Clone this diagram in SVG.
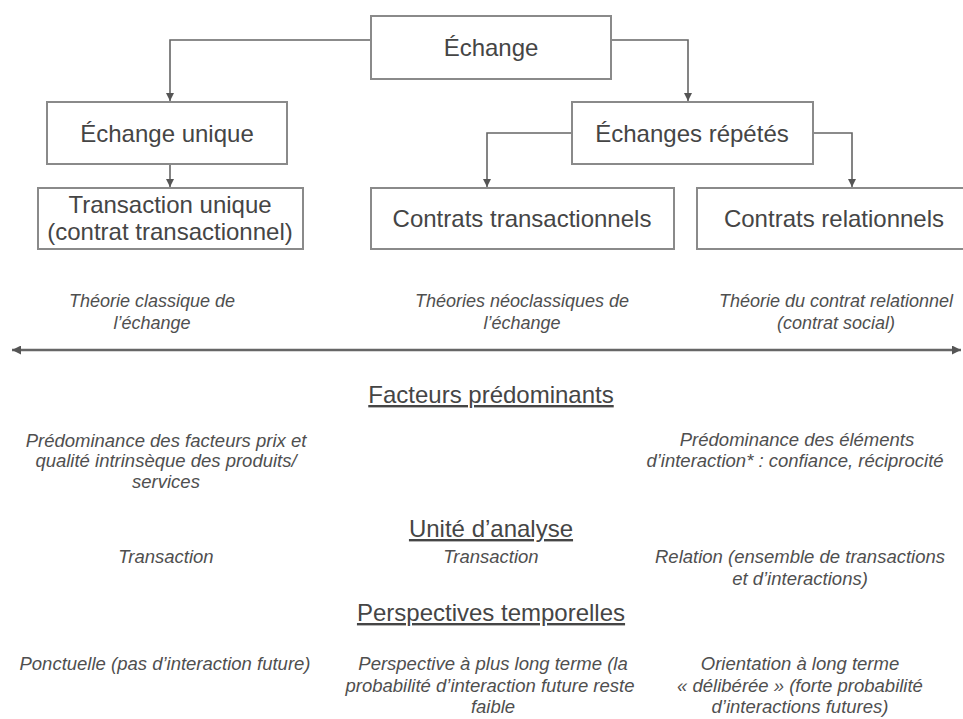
<svg xmlns="http://www.w3.org/2000/svg" width="963" height="719" viewBox="0 0 963 719">
<style>
.box{fill:#fff;stroke:#8a8a8a;stroke-width:2}
.lbl{font-family:"Liberation Sans",Arial,sans-serif;font-size:24px;fill:#454545;text-anchor:middle}
.hdr{font-family:"Liberation Sans",Arial,sans-serif;font-size:24px;fill:#454545;text-anchor:middle;text-decoration:underline}
.it{font-family:"Liberation Sans",Arial,sans-serif;font-size:18.5px;font-style:italic;fill:#4f4f4f;text-anchor:middle}
.th{font-family:"Liberation Sans",Arial,sans-serif;font-size:18px;font-style:italic;fill:#4f4f4f;text-anchor:middle}
.con{fill:none;stroke:#666;stroke-width:1.6}
.axis{fill:none;stroke:#666;stroke-width:2.6}
</style>
<defs>
<marker id="ah" viewBox="0 0 10 10" refX="10" refY="5" markerWidth="8" markerHeight="8" markerUnits="userSpaceOnUse" orient="auto"><path d="M0,0 L10,5 L0,10 z" fill="#555"/></marker>
<marker id="ah2" viewBox="0 0 10 10" refX="10" refY="5" markerWidth="10" markerHeight="9" markerUnits="userSpaceOnUse" orient="auto-start-reverse"><path d="M0,0 L10,5 L0,10 z" fill="#555"/></marker>
</defs>
<rect width="963" height="719" fill="#fff"/>
<g id="connectors">
<path class="con" d="M371,40 H170 V101" marker-end="url(#ah)"/>
<path class="con" d="M611,40 H688 V101" marker-end="url(#ah)"/>
<path class="con" d="M170,164 V187" marker-end="url(#ah)"/>
<path class="con" d="M572,133 H487 V187" marker-end="url(#ah)"/>
<path class="con" d="M813,133 H852 V187" marker-end="url(#ah)"/>
<path class="axis" d="M12,350 H961" marker-start="url(#ah2)" marker-end="url(#ah2)"/>
</g>
<g id="echange"><rect class="box" x="371" y="16" width="240" height="63"/><text class="lbl" x="491" y="56">Échange</text></g>
<g id="echange-unique"><rect class="box" x="47" y="102" width="240" height="62"/><text class="lbl" x="167" y="142">Échange unique</text></g>
<g id="echanges-repetes"><rect class="box" x="572" y="102" width="241" height="62"/><text class="lbl" x="692" y="142">Échanges répétés</text></g>
<g id="transaction-unique"><rect class="box" x="38" y="188" width="265" height="61"/><text class="lbl" x="170" y="213">Transaction unique</text><text class="lbl" x="170" y="240">(contrat transactionnel)</text></g>
<g id="contrats-transactionnels"><rect class="box" x="371" y="188" width="303" height="61"/><text class="lbl" x="522" y="227">Contrats transactionnels</text></g>
<g id="contrats-relationnels"><rect class="box" x="697" y="188" width="280" height="61"/><text class="lbl" x="834" y="227">Contrats relationnels</text></g>
<g id="theories">
<text class="th" x="152" y="307">Théorie classique de</text>
<text class="th" x="152" y="329">l’échange</text>
<text class="th" x="522" y="307">Théories néoclassiques de</text>
<text class="th" x="522" y="329">l’échange</text>
<text class="th" x="836" y="307">Théorie du contrat relationnel</text>
<text class="th" x="836" y="329">(contrat social)</text>
</g>
<g id="facteurs">
<text class="hdr" x="491" y="403">Facteurs prédominants</text>
<text class="it" x="166" y="447">Prédominance des facteurs prix et</text>
<text class="it" x="166" y="467">qualité intrinsèque des produits/</text>
<text class="it" x="166" y="488">services</text>
<text class="it" x="797" y="446">Prédominance des éléments</text>
<text class="it" x="795" y="467">d’interaction* : confiance, réciprocité</text>
</g>
<g id="unite">
<text class="hdr" x="491" y="537">Unité d’analyse</text>
<text class="it" x="166" y="563">Transaction</text>
<text class="it" x="491" y="563">Transaction</text>
<text class="it" x="800" y="563">Relation (ensemble de transactions</text>
<text class="it" x="800" y="585">et d’interactions)</text>
</g>
<g id="perspectives">
<text class="hdr" x="491" y="621">Perspectives temporelles</text>
<text class="it" x="165" y="670">Ponctuelle (pas d’interaction future)</text>
<text class="it" x="493" y="670">Perspective à plus long terme (la</text>
<text class="it" x="490" y="692">probabilité d’interaction future reste</text>
<text class="it" x="493" y="713">faible</text>
<text class="it" x="800" y="670">Orientation à long terme</text>
<text class="it" x="800" y="692">« délibérée » (forte probabilité</text>
<text class="it" x="800" y="713">d’interactions futures)</text>
</g>
</svg>
